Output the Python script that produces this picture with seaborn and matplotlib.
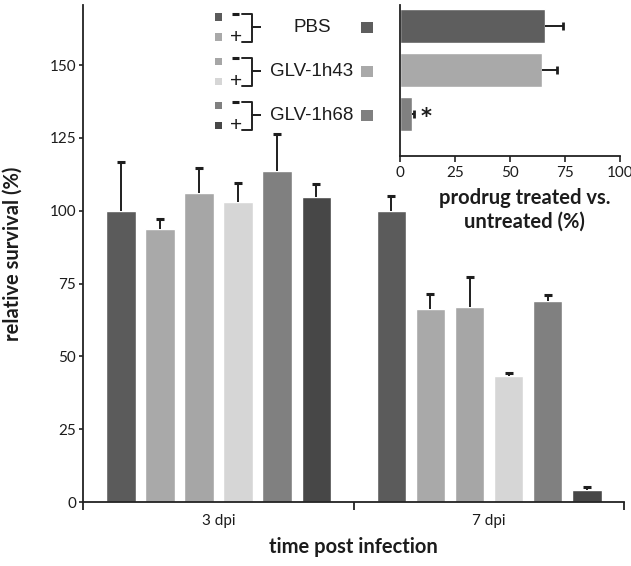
import numpy as np
import pandas as pd
import matplotlib
matplotlib.use('Agg')
import matplotlib.pyplot as plt
import matplotlib.transforms as mtransforms
from matplotlib.lines import Line2D
from matplotlib.patches import Rectangle
import seaborn as sns

# main panel: relative survival per time point and group
times = ['3 dpi', '7 dpi']
groups = ['PBS -', 'PBS +', 'GLV-1h43 -', 'GLV-1h43 +', 'GLV-1h68 -', 'GLV-1h68 +']
survival_3dpi = [100, 93.7, 106.2, 103.1, 113.6, 104.6]
err_3dpi = [16.7, 3.3, 8.3, 6.5, 12.6, 4.5]
survival_7dpi = [100, 66.1, 67.1, 43.3, 69.1, 4.1]
err_7dpi = [5.2, 5.2, 10.1, 0.9, 2.0, 1.0]
group_colors = ['#5b5b5b', '#a9a9a9', '#a6a6a6', '#d6d6d6', '#808080', '#474747']
survival_ticks = [0, 25, 50, 75, 100, 125, 150]

# inset: prodrug treated vs untreated
viruses = ['PBS', 'GLV-1h43', 'GLV-1h68']
ratio = [65.9, 64.4, 5.6]
ratio_err = [8.4, 6.8, 0.9]
virus_colors = ['#5e5e5e', '#a9a9a9', '#808080']
ratio_ticks = [0, 25, 50, 75, 100]

sns.set_style('white')
plt.rcParams['font.family'] = ['Lato', 'DejaVu Sans']
txt = '#1c1c1c'

df = pd.DataFrame({
    'time': np.repeat(times, len(groups)),
    'group': groups * len(times),
    'value': survival_3dpi + survival_7dpi,
    'err': err_3dpi + err_7dpi,
})

W, H = 631, 566
fig = plt.figure(figsize=(W / 100, H / 100), dpi=100)

ax = fig.add_axes([83.3 / W, 1 - 502 / H, 541 / W, 497 / H])
sns.barplot(data=df, x='time', y='value', hue='group', hue_order=groups,
            palette=group_colors, width=0.867, gap=0.245, saturation=1,
            errorbar=None, legend=False, ax=ax)
for g, cont in zip(groups, ax.containers):
    sub = df[df.group == g].set_index('time').loc[times]
    xs = [b.get_x() + b.get_width() / 2 for b in cont]
    eb = ax.errorbar(xs, sub['value'], yerr=[np.zeros(len(sub)), sub['err']],
                     fmt='none', ecolor='#1e1e1e', elinewidth=1.4, capsize=3, capthick=2.2)
    eb[1][0].set_visible(False)  # no cap on the bar top

ax.set_xlim(-0.5, 1.5)
ax.set_ylim(0, 170.6)
ax.set_yticks(survival_ticks)
ax.set_xticks([0, 1])
ax.set_xticklabels(times)
ax.set_xticks([-0.5, 0.5, 1.5], minor=True)
for s in ['top', 'right']:
    ax.spines[s].set_visible(False)
for s in ['left', 'bottom']:
    ax.spines[s].set_linewidth(1.3)
    ax.spines[s].set_color('#222222')
ax.tick_params(axis='y', direction='out', length=3, width=1.2, color='#222222',
               labelsize=11, labelcolor=txt, pad=2, left=True)
ax.tick_params(axis='x', which='major', length=0, labelsize=11, labelcolor=txt, pad=9)
ax.tick_params(axis='x', which='minor', direction='out', length=6, width=1.3,
               color='#222222', bottom=True)
ax.set_xlabel('time post infection', fontsize=14.5, fontweight='bold', color=txt)
ax.set_ylabel('relative survival (%)', fontsize=14.5, fontweight='bold', color=txt)
ax.xaxis.set_label_coords(0.5, -0.07)
ax.yaxis.set_label_coords(-0.112, 0.5)

# inset
axin = fig.add_axes([400 / W, 1 - 156 / H, 220 / W, 151 / H])
sns.barplot(x=ratio, y=viruses, hue=viruses, palette=virus_colors, orient='h',
            width=0.78, saturation=1, legend=False, ax=axin)
eb = axin.errorbar(ratio, range(len(viruses)), xerr=[np.zeros(len(ratio)), ratio_err],
                   fmt='none', ecolor='#1e1e1e', elinewidth=1.4, capsize=3, capthick=2)
eb[1][0].set_visible(False)
axin.set_xlim(0, 100)
axin.set_ylim(2.96, -0.47)
axin.set_xticks(ratio_ticks)
axin.set_yticks([])
axin.set_ylabel('')
for s in ['top', 'right']:
    axin.spines[s].set_visible(False)
for s in ['left', 'bottom']:
    axin.spines[s].set_linewidth(1.3)
    axin.spines[s].set_color('#222222')
axin.tick_params(axis='x', direction='out', length=4, width=1.2, color='#222222',
                 labelsize=11, labelcolor=txt, pad=3, bottom=True)
axin.patch.set_alpha(0)
axin.text(ratio[2] + ratio_err[2] + 5.5, 2.08, '*', ha='center', va='center',
          fontsize=15, fontweight='bold', color=txt, family='DejaVu Sans')
fig.text(524.5 / W, 1 - 210 / H, 'prodrug treated vs.\nuntreated (%)', ha='center',
         va='center', fontsize=14.5, fontweight='bold', color=txt, linespacing=1.2)

# custom legend left of the inset, rows aligned with the inset bars
blend = mtransforms.blended_transform_factory(fig.transFigure, axin.transData)
ppu = 151 / 3.43  # pixels per inset category unit


def fx(px):
    return px / W


def fy(row, dpx):
    return row + dpx / ppu


legend_font = ['Liberation Sans', 'DejaVu Sans']
for i, name in enumerate(viruses):
    r = i
    off = 1.5
    c_minus, c_plus = group_colors[2 * i], group_colors[2 * i + 1]
    for dpx, c in [(-10, c_minus), (10, c_plus)]:
        fig.add_artist(Rectangle((fx(215), fy(r, off + dpx - 3.7)), 7.5 / W, 7.5 / ppu,
                                 transform=blend, color=c, lw=0))
    fig.add_artist(Line2D([fx(232), fx(238.5)], [fy(r, off - 13.5)] * 2,
                          transform=blend, color=txt, lw=2.2, solid_capstyle='butt'))
    fig.text(fx(236), fy(r, off + 10), '+', ha='center', va='center', fontsize=15,
             color=txt, family=legend_font, transform=blend)
    bx = [242, 252, 252, 260, 252, 252, 242]
    by = [-13.3, -13.3, 0, 0, 0, 14.7, 14.7]
    fig.add_artist(Line2D([fx(x) for x in bx], [fy(r, off + y) for y in by],
                          transform=blend, color='#222222', lw=1.4))
    fig.text(fx(312), fy(r, off), name, ha='center', va='center', fontsize=13.5,
             color=txt, family=legend_font, transform=blend)
    fig.add_artist(Rectangle((fx(361), fy(r, off - 5.5)), 12 / W, 11 / ppu,
                             transform=blend, color=virus_colors[i], lw=0))

fig.savefig('out.png', dpi=100)
